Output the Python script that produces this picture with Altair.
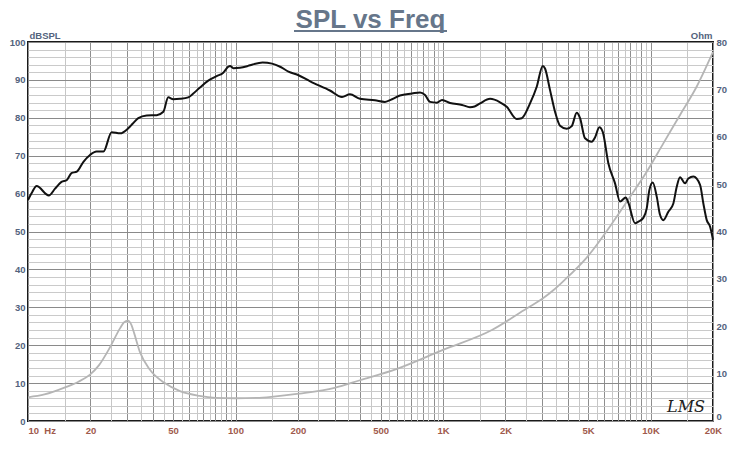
import altair as alt
import pandas as pd

# ---------------- data ----------------
spl_freq = [10, 10.5, 11.0, 12.6, 13.5, 14.5, 15.4, 16.2, 17.2, 18.5, 19.9, 21.4, 23.1,
            25.3, 27.8, 30.5, 32.0, 34.0, 37.3, 41.7, 44.9, 47.4, 50.1, 54.0, 59.2, 62.6,
            67.4, 73.9, 81.1, 87.3, 92.3, 94.1, 97.6, 105, 115, 120, 135, 150, 165, 180,
            200, 229, 285, 326, 356, 398, 470, 525, 568, 620, 709, 775, 819, 866, 935,
            989, 1081, 1235, 1349, 1420, 1508, 1685, 1883, 2028, 2266, 2395, 2626, 2829,
            3023, 3101, 3279, 3465, 3663, 3946, 4171, 4409, 4574, 4834, 5208, 5401, 5666,
            5884, 6261, 6744, 7129, 7596, 7816, 8421, 8736, 9233, 9587, 9867, 10247,
            10713, 11111, 11525, 12184, 12881, 13375, 13875, 14667, 15216, 16085, 17326,
            17970, 18660, 19350, 20000]
spl_db = [58.3, 60.5, 62.0, 59.5, 61.3, 63.1, 63.6, 65.4, 65.8, 68.4, 70.2, 71.1, 71.1,
          76.2, 75.9, 77.3, 78.5, 79.9, 80.6, 80.7, 81.6, 85.4, 84.9, 85.0, 85.4, 86.4,
          88.0, 89.8, 91.0, 91.9, 93.5, 93.7, 93.1, 93.2, 93.7, 94.0, 94.6, 94.3, 93.4, 92.2,
          91.3, 89.6, 87.2, 85.5, 86.2, 85.0, 84.6, 84.2, 84.9, 85.9, 86.4, 86.7, 86.0, 84.2, 84.0,
          84.7, 83.9, 83.4, 82.8, 83.0, 83.8, 85.0, 84.1, 82.9, 79.7, 79.9, 83.8, 88.2,
          93.7, 93.0, 87.3, 81.6, 77.9, 77.1, 77.8, 81.3, 79.9, 74.6, 73.7, 74.8, 77.5,
          76.3, 68.0, 62.7, 57.9, 59.0, 57.6, 52.2, 52.6, 53.6, 56.1, 60.9, 62.9,
          59.2, 54.4, 53.0, 55.2, 57.4, 61.8, 64.3, 62.7, 64.0, 64.5, 62.3,
          57.4, 53.0, 51.3, 47.8]

imp_freq = [10, 12, 15.3, 17.5, 19.9, 22, 24.8, 27.8, 29, 30.3, 31.5, 32.5, 34.6, 38.7,
            45.6, 54, 67, 80, 100, 130, 204, 300, 398, 600, 1000, 1720, 2540, 3010, 3400,
            3860, 4925, 6620, 7965, 9587, 11525, 13875, 16700, 20000]
imp_ohm = [5.0, 5.6, 7.2, 8.3, 9.8, 11.8, 15.5, 19.6, 20.8, 21.2, 20.3, 18.5, 14.6, 10.8,
           8.0, 6.3, 5.3, 4.9, 4.8, 4.9, 5.8, 7.0, 8.6, 11.0, 15.0, 19.2, 23.8, 25.8, 27.6,
           29.8, 34.5, 42.1, 47.3, 52.6, 58.6, 64.6, 70.6, 77.9]

x_grid = [round(m * 10 ** k, 6) for k in range(1, 4) for m in
          (1, 1.5, 2, 2.5, 3, 3.5, 4, 4.5, 5, 5.5, 6, 6.5, 7, 7.5, 8, 8.5, 9, 9.5)] + [10000, 15000, 20000]
x_labels = {10: "10\u00a0\u00a0Hz", 20: "20", 50: "50", 100: "100", 200: "200", 500: "500",
            1000: "1K", 2000: "2K", 5000: "5K", 10000: "10K", 20000: "20K"}
y_grid = list(range(0, 101, 2))
ohm_ticks = list(range(0, 81, 10))

title_text = "SPL vs Freq"
logo_text = "LMS"

# ---------------- chart ----------------
spl_df = pd.DataFrame({"freq": spl_freq, "db": spl_db})
imp_df = pd.DataFrame({"freq": imp_freq, "ohm": imp_ohm})

label_expr = " : ".join(f"datum.value == {k} ? '{v}'" for k, v in x_labels.items()) + " : ''"

FONT = "Liberation Sans"
SLATE = "#53637d"
XCOL = "#a05a4c"

x_scale = alt.Scale(type="log", domain=[10, 20000], nice=False)
x_axis = alt.Axis(values=x_grid, labelExpr=label_expr, title=None, ticks=False, domain=False,
                  grid=True,
                  gridColor={"condition": {"test": "(datum.value / pow(10, floor(log(datum.value) / LN10 + 1e-9))) % 1 == 0",
                                           "value": "#8e8e8e"}, "value": "#c6c6c6"},
                  gridWidth=1, labelOverlap=False, labelPadding=4,
                  labelAlign={"condition": {"test": "datum.value == 10", "value": "left"}, "value": "center"},
                  labelFont=FONT, labelFontSize=9.5, labelFontWeight="bold", labelColor=XCOL)

spl = alt.Chart(spl_df).mark_line(color="#111111", strokeWidth=2, interpolate="monotone").encode(
    x=alt.X("freq:Q", scale=x_scale, axis=x_axis),
    y=alt.Y("db:Q", scale=alt.Scale(domain=[0, 100], nice=False),
            axis=alt.Axis(values=y_grid, labelExpr="datum.value % 10 == 0 ? datum.label : ''",
                          ticks=False, domain=False, grid=True,
                          gridColor={"condition": {"test": "datum.value % 10 == 0", "value": "#8a8a8a"},
                                     "value": "#cacaca"},
                          labelOverlap=False, labelPadding=3, labelFont=FONT, labelFontSize=9.5,
                          labelFontWeight="bold", labelColor=SLATE,
                          title="dBSPL", titleAngle=0, titleX=1, titleY=-4, titleAlign="left",
                          titleBaseline="alphabetic", titleFont=FONT, titleFontSize=9.5,
                          titleFontWeight="bold", titleColor=SLATE)),
)

imp = alt.Chart(imp_df).mark_line(color="#b5b5b5", strokeWidth=1.8, interpolate="monotone").encode(
    x=alt.X("freq:Q", scale=x_scale, axis=x_axis),
    y=alt.Y("ohm:Q", scale=alt.Scale(domain=[0, 80], nice=False),
            axis=alt.Axis(orient="right", values=ohm_ticks, ticks=False, domain=False, grid=False,
                          labelOverlap=False, labelPadding=3, labelFont=FONT, labelFontSize=9.5,
                          labelFontWeight="bold", labelColor=SLATE,
                          labelBaseline={"condition": {"test": "datum.value == 0", "value": "bottom"},
                                         "value": "middle"},
                          title="Ohm", titleAngle=0, titleX=-1, titleY=-4, titleAlign="right",
                          titleBaseline="alphabetic", titleFont=FONT, titleFontSize=9.5,
                          titleFontWeight="bold", titleColor=SLATE)),
)

text_df = pd.DataFrame({"title": [title_text], "logo": [logo_text]})

title = alt.Chart(text_df).mark_text(font=FONT, fontSize=26, fontWeight="bold", color="#66768a",
                                     align="center", baseline="alphabetic").encode(
    text="title:N", x=alt.value(342.5), y=alt.value(-14))
underline = alt.Chart(text_df).mark_rule(color="#66768a", strokeWidth=2).encode(
    x=alt.value(266), x2=alt.value(419), y=alt.value(-11))
logo = alt.Chart(text_df).mark_text(font="DejaVu Serif", fontSize=16, fontStyle="italic",
                                    color="#222222", align="center", baseline="alphabetic").encode(
    text="logo:N", x=alt.value(658), y=alt.value(370))

chart = alt.layer(imp, spl, title, underline, logo).resolve_scale(y="independent").properties(
    width=685, height=379,
    padding={"left": 20, "top": 34, "right": 22, "bottom": 20},
    autosize=alt.AutoSizeParams(type="none"),
).configure_view(stroke="#1a1a1a", strokeWidth=2)

chart.save("out.html", embed_options={"renderer": "svg", "actions": False})
